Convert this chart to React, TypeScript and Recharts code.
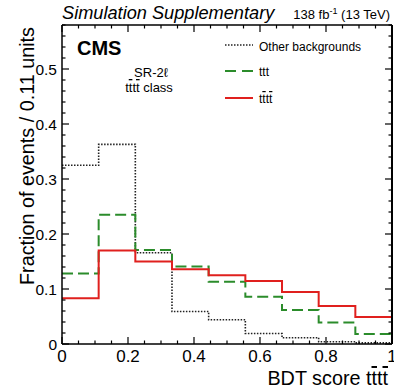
import React from 'react';
import { LineChart, Line, XAxis, YAxis } from 'recharts';

const binEdges = [0, 0.1111, 0.2222, 0.3333, 0.4444, 0.5556, 0.6667, 0.7778, 0.8889, 1];
const otherBackgrounds = [0.325, 0.363, 0.166, 0.059, 0.044, 0.019, 0.0115, 0.004, 0.002];
const tttValues = [0.128, 0.235, 0.171, 0.141, 0.113, 0.086, 0.062, 0.039, 0.018];
const ttttValues = [0.083, 0.17, 0.15, 0.136, 0.125, 0.1145, 0.0945, 0.069, 0.049];

const xTicks = [0, 0.05, 0.1, 0.15, 0.2, 0.25, 0.3, 0.35, 0.4, 0.45, 0.5, 0.55, 0.6, 0.65, 0.7, 0.75, 0.8, 0.85, 0.9, 0.95, 1];
const xMajor = [0, 0.2, 0.4, 0.6, 0.8, 1];
const xTickLabels = ['0', '0.2', '0.4', '0.6', '0.8', '1'];
const yTicks = [0, 0.02, 0.04, 0.06, 0.08, 0.1, 0.12, 0.14, 0.16, 0.18, 0.2, 0.22, 0.24, 0.26, 0.28, 0.3, 0.32, 0.34, 0.36, 0.38, 0.4, 0.42, 0.44, 0.46, 0.48, 0.5, 0.52, 0.54, 0.56, 0.58];
const yMajor = [0, 0.1, 0.2, 0.3, 0.4, 0.5];
const yTickLabels = ['0', '0.1', '0.2', '0.3', '0.4', '0.5'];

const data = binEdges.map((x, i) => {
  const j = Math.min(i, otherBackgrounds.length - 1);
  return { x, other: otherBackgrounds[j], ttt: tttValues[j], tttt: ttttValues[j] };
});

const FONT = '"Liberation Sans", Arial, Helvetica, sans-serif';
const majorIndex = (arr: number[], v: number) => arr.findIndex((m) => Math.abs(m - v) < 1e-6);

const BottomTick = (p: any) => {
  const { x, y, payload } = p;
  const idx = majorIndex(xMajor, payload.value);
  const major = idx >= 0;
  return (
    <g>
      <line x1={x} x2={x} y1={y} y2={y - (major ? 7 : 3.5)} stroke="#000" strokeWidth={1.2} />
      {major && (
        <text x={x} y={y + 18} textAnchor="middle" fontSize={17} fontFamily={FONT} fill="#000">
          {xTickLabels[idx]}
        </text>
      )}
    </g>
  );
};

const TopTick = (p: any) => {
  const { x, y, payload } = p;
  const major = majorIndex(xMajor, payload.value) >= 0;
  return <line x1={x} x2={x} y1={y} y2={y + (major ? 7 : 3.5)} stroke="#000" strokeWidth={1.2} />;
};

const LeftTick = (p: any) => {
  const { x, y, payload } = p;
  const idx = majorIndex(yMajor, payload.value);
  const major = idx >= 0;
  return (
    <g>
      <line x1={x} x2={x + (major ? 7 : 3.5)} y1={y} y2={y} stroke="#000" strokeWidth={1.2} />
      {major && (
        <text x={x - 5} y={y + 5.5} textAnchor="end" fontSize={15.5} fontFamily={FONT} fill="#000">
          {yTickLabels[idx]}
        </text>
      )}
    </g>
  );
};

const RightTick = (p: any) => {
  const { x, y, payload } = p;
  const major = majorIndex(yMajor, payload.value) >= 0;
  return <line x1={x} x2={x - (major ? 7 : 3.5)} y1={y} y2={y} stroke="#000" strokeWidth={1.2} />;
};

const OL = ({ children }: { children: React.ReactNode }) => (
  <tspan style={{ textDecoration: 'overline' }}>{children}</tspan>
);

const RED = '#e0201e';
const GREEN = '#2b8c2b';

export default function App() {
  const axisLine = { stroke: '#000', strokeWidth: 1.5 };
  return (
    <div style={{ position: 'absolute', left: 0, top: 0, width: 394, height: 388, background: '#fff' }}>
      <LineChart width={394} height={388} data={data} margin={{ top: 24, right: 1, bottom: 43, left: 61 }}>
        <XAxis xAxisId="b" dataKey="x" type="number" domain={[0, 1]} ticks={xTicks} interval={0}
          tick={(p: any) => <BottomTick {...p} />} tickLine={false} tickSize={0} tickMargin={0}
          height={1} axisLine={axisLine} allowDataOverflow />
        <XAxis xAxisId="t" orientation="top" dataKey="x" type="number" domain={[0, 1]} ticks={xTicks} interval={0}
          tick={(p: any) => <TopTick {...p} />} tickLine={false} tickSize={0} tickMargin={0}
          height={1} axisLine={axisLine} allowDataOverflow />
        <YAxis yAxisId="l" type="number" domain={[0, 0.58]} ticks={yTicks} interval={0}
          tick={(p: any) => <LeftTick {...p} />} tickLine={false} tickSize={0} tickMargin={0}
          width={1} axisLine={axisLine} allowDataOverflow />
        <YAxis yAxisId="r" orientation="right" type="number" domain={[0, 0.58]} ticks={yTicks} interval={0}
          tick={(p: any) => <RightTick {...p} />} tickLine={false} tickSize={0} tickMargin={0}
          width={1} axisLine={{ stroke: '#000', strokeWidth: 2 }} allowDataOverflow />
        <Line xAxisId="b" yAxisId="l" dataKey="other" type="stepAfter" stroke="#222" strokeWidth={1.6}
          strokeDasharray="1.5 1.5" dot={false} activeDot={false} isAnimationActive={false} />
        <Line xAxisId="b" yAxisId="l" dataKey="ttt" type="stepAfter" stroke={GREEN} strokeWidth={2}
          strokeDasharray="11 5" dot={false} activeDot={false} isAnimationActive={false} />
        <Line xAxisId="b" yAxisId="l" dataKey="tttt" type="stepAfter" stroke={RED} strokeWidth={2}
          dot={false} activeDot={false} isAnimationActive={false} />
      </LineChart>
      <svg width={394} height={388} style={{ position: 'absolute', left: 0, top: 0, pointerEvents: 'none' }}
        fontFamily={FONT}>
        <text x={62} y={19} fontSize={18.2} fontStyle="italic" fill="#000">Simulation Supplementary</text>
        <text x={390} y={19} fontSize={13} textAnchor="end" fill="#000">
          138 fb<tspan fontSize={9} dy={-5}>-1</tspan><tspan dy={5}> (13 TeV)</tspan>
        </text>
        <text x={77} y={55} fontSize={20} fontWeight="bold" fill="#000">CMS</text>
        <text x={151} y={77} fontSize={13} textAnchor="middle" fill="#000">SR-2ℓ</text>
        <text x={149} y={92} fontSize={13} textAnchor="middle" fill="#000">
          t<OL>t</OL>t<OL>t</OL> class
        </text>
        <line x1={225} x2={253} y1={45} y2={45} stroke="#222" strokeWidth={1.6} strokeDasharray="1.5 1.5" />
        <text x={259} y={51} fontSize={12} fill="#000">Other backgrounds</text>
        <line x1={225} x2={253} y1={71} y2={71} stroke={GREEN} strokeWidth={2} strokeDasharray="11 6" />
        <text x={259} y={76} fontSize={12} fill="#000">ttt</text>
        <line x1={225} x2={253} y1={98} y2={98} stroke={RED} strokeWidth={2} />
        <text x={259} y={103} fontSize={12} fill="#000">
          t<OL>t</OL>t<OL>t</OL>
        </text>
        <text x={388} y={385} fontSize={19.8} textAnchor="end" fill="#000">
          BDT score t<OL>t</OL>t<OL>t</OL>
        </text>
        <text transform="translate(34,27) rotate(-90)" fontSize={19.8} textAnchor="end" fill="#000">
          Fraction of events / 0.11 units
        </text>
      </svg>
    </div>
  );
}
